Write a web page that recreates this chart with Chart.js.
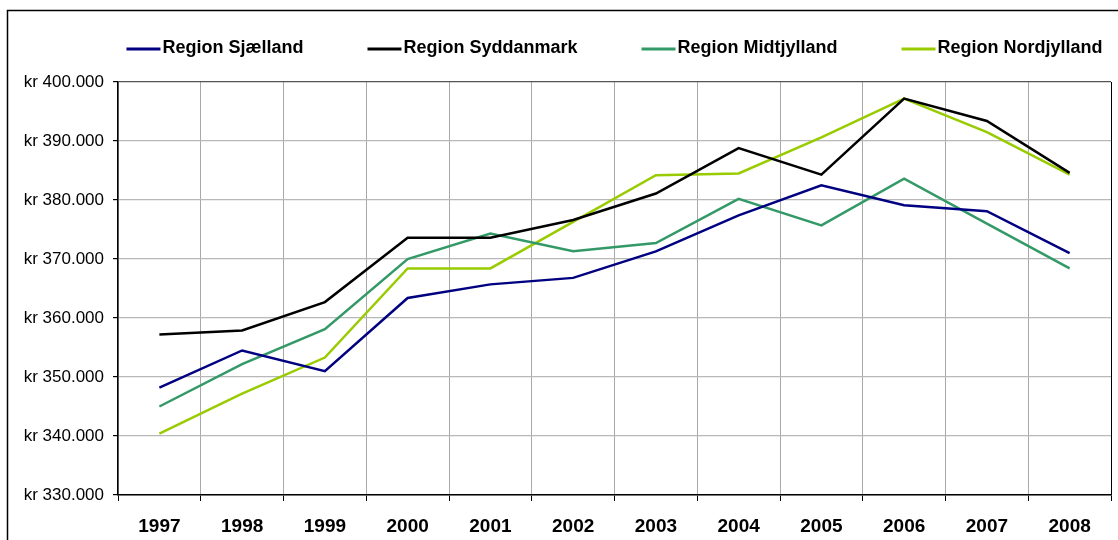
<!DOCTYPE html>
<html>
<head>
<meta charset="utf-8">
<script src="https://cdn.jsdelivr.net/npm/chart.js@4"></script>
<style>
  html, body { margin: 0; padding: 0; background: #fff; }
  #wrap { position: relative; width: 1118px; height: 540px; }
</style>
</head>
<body>
<div id="wrap"><canvas id="c" width="1118" height="540"></canvas></div>
<script>
const years = ['1997','1998','1999','2000','2001','2002','2003','2004','2005','2006','2007','2008'];
const seriesNames = ['Region Sjælland', 'Region Syddanmark', 'Region Midtjylland', 'Region Nordjylland'];
const seriesColors = ['#000080', '#000000', '#339966', '#99CC00'];
const sjaelland   = [348200, 354500, 351000, 363400, 365700, 366800, 371300, 377400, 382500, 379100, 378100, 371000];
const syddanmark  = [357200, 357900, 362700, 373600, 373600, 376600, 381100, 388800, 384300, 397200, 393400, 384600];
const midtjylland = [345000, 352200, 358100, 370000, 374300, 371300, 372700, 380200, 375700, 383600, 376000, 368400];
const nordjylland = [340400, 347200, 353300, 368400, 368400, 376300, 384200, 384500, 390600, 397200, 391500, 384300];
const yMin = 330000, yMax = 400000, yStep = 10000;

const seriesValues = [sjaelland, syddanmark, midtjylland, nordjylland];

function fmt(v) {
  return 'kr ' + String(v).replace(/\B(?=(\d{3})+(?!\d))/g, '.');
}

const framePlugin = {
  id: 'frame',
  beforeDraw(chart) {
    const ctx = chart.ctx;
    ctx.save();
    ctx.strokeStyle = '#000';
    ctx.lineWidth = 1.5;
    ctx.strokeRect(7.5, 10.5, 3000, 3000);
    ctx.restore();
  }
};

const legendPlugin = {
  id: 'customLegend',
  afterDraw(chart) {
    const ctx = chart.ctx;
    const ds = chart.data.datasets;
    ctx.save();
    ctx.font = 'bold 18px "Liberation Sans", Arial, sans-serif';
    ctx.textBaseline = 'middle';
    ctx.textAlign = 'left';
    const lineW = 34, gapTxt = 2, gapItem = 64;
    const widths = ds.map(d => lineW + gapTxt + ctx.measureText(d.label).width);
    const total = widths.reduce((a, b) => a + b, 0) + gapItem * (ds.length - 1);
    const ca = chart.chartArea;
    let x = (ca.left + ca.right) / 2 - total / 2;
    const y = 48;
    ds.forEach((d, i) => {
      ctx.strokeStyle = d.borderColor;
      ctx.lineWidth = 3;
      ctx.beginPath();
      ctx.moveTo(x, y + 1);
      ctx.lineTo(x + lineW, y + 1);
      ctx.stroke();
      ctx.fillStyle = '#000';
      ctx.fillText(d.label, x + lineW + gapTxt, y);
      x += widths[i] + gapItem;
    });
    ctx.restore();
  }
};

new Chart(document.getElementById('c'), {
  type: 'line',
  data: {
    labels: years,
    datasets: seriesNames.map((name, i) => ({
      label: name,
      data: seriesValues[i],
      borderColor: seriesColors[i],
      backgroundColor: seriesColors[i],
      borderWidth: 2.5,
      pointRadius: 0,
      tension: 0,
      fill: false
    }))
  },
  options: {
    responsive: false,
    animation: false,
    layout: { padding: { left: 0, right: 7, top: 82, bottom: 0 } },
    plugins: {
      legend: { display: false },
      tooltip: { enabled: false },
      title: { display: false }
    },
    scales: {
      x: {
        offset: true,
        grid: {
          offset: true,
          color: c => c.type === 'tick' ? '#a8a8a8' : '#000',
          lineWidth: 1,
          tickColor: '#000',
          tickLength: 6,
          drawTicks: true
        },
        border: { display: true, color: '#000', width: 1.5 },
        ticks: {
          color: '#000',
          font: { family: '"Liberation Sans", Arial, sans-serif', size: 19, weight: 'bold' },
          padding: 14,
          maxRotation: 0
        },
        afterFit(scale) { scale.height = 45; }
      },
      y: {
        min: yMin,
        max: yMax,
        grid: {
          color: c => (c.tick && c.tick.value === yMax) ? '#555' : '#b8b8b8',
          lineWidth: 1.2,
          tickColor: '#000',
          tickLength: 5
        },
        border: { display: true, color: '#000', width: 1.5 },
        ticks: {
          stepSize: yStep,
          color: '#000',
          font: { family: '"Liberation Sans", Arial, sans-serif', size: 17 },
          padding: 9,
          callback: v => fmt(v)
        },
        afterFit(scale) { scale.width = 118; }
      }
    }
  },
  plugins: [framePlugin, legendPlugin]
});
</script>
</body>
</html>
